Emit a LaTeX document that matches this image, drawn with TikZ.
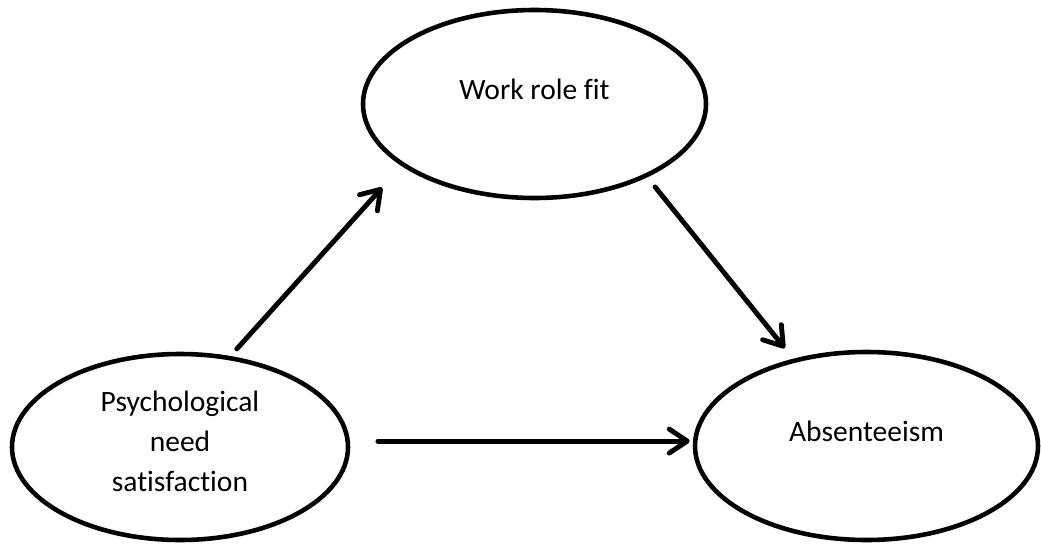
\documentclass[tikz,border=0pt]{standalone}
\usepackage{fontspec}
\setmainfont{Carlito}[Ligatures=NoCommon]
\usepackage{tikz}
\usetikzlibrary{arrows.meta}
\usetikzlibrary{shapes.geometric}
\usetikzlibrary{calc}
\tikzset{
    construct/.style={ellipse, draw=black, line width=2.6pt,
        font=\fontsize{16.8pt}{22.8pt}\selectfont},
    oneline/.style={text height=0.42cm, text depth=0.60cm},
    path/.style={draw=black, line width=2.8pt, line cap=round,
        -{Straight Barb[length=0.36cm, width=0.48cm, line cap=round, line join=round]}}
}

\begin{document}
\begin{tikzpicture}
            % Frame to ensure alignment:
            \useasboundingbox                                                 (0.00, 0.00) rectangle (20.82, 10.90);
            % Constructs
            \node[construct, oneline, minimum width=6.86cm, minimum height=3.76cm] (wrf) at (10.69, 8.82) {Work role fit};
            \node[construct, align=center, text depth=0.22cm,
                  minimum width=6.72cm, minimum height=3.72cm]                  (psn) at ( 3.60, 1.96) {Psychological\\need\\satisfaction};
            \node[construct, oneline, minimum width=6.86cm, minimum height=3.76cm] (abs) at (17.33, 1.98) {Absenteeism};
            % Paths
            \draw[path, shorten <=0.19cm, shorten >=0.58cm] (psn.61)  -- (wrf.205);
            \draw[path, shorten <=0.25cm, shorten >=0.27cm] (wrf.327) -- (abs.130);
            \draw[path, shorten <=0.56cm, shorten >=0.06cm] (psn.2)   -- (psn.2 -| abs.west);
\end{tikzpicture}
\end{document}
